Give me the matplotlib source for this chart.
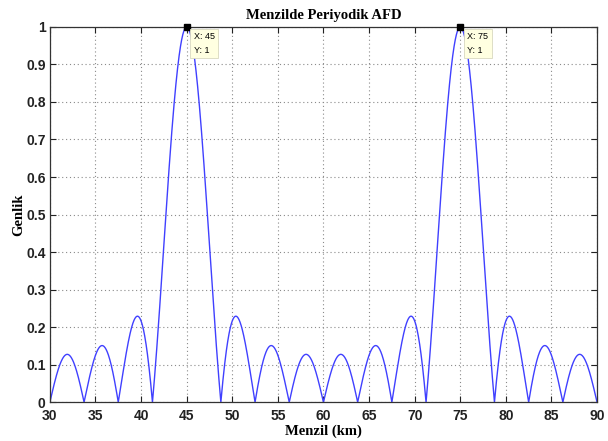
import numpy as np
import matplotlib.pyplot as plt

# range axis and array settings
menzil_min, menzil_max = 30, 90
periyot = 30          # km between main lobes
eleman_sayisi = 8     # nulls every 30/8 km
tepe_x = [45, 75]
tepe_y = [1, 1]

r = np.linspace(menzil_min, menzil_max, 2401)
u = np.pi * (r - tepe_x[0]) / periyot
pay = np.sin(eleman_sayisi * u)
payda = eleman_sayisi * np.sin(u)
with np.errstate(invalid='ignore', divide='ignore'):
    afd = np.abs(np.where(np.abs(payda) < 1e-12, 1.0, pay / payda))

fig = plt.figure(figsize=(6.08, 4.41), dpi=100)
ax = fig.add_axes([0.082, 0.088, 0.900, 0.851])

ax.plot(r, afd, color='#4040ff', lw=1.0)

ax.set_xlim(menzil_min, menzil_max)
ax.set_ylim(0, 1)
ax.set_xticks(np.arange(30, 91, 5))
ax.set_yticks(np.arange(0, 1.01, 0.1))
ax.set_yticklabels(['0', '0.1', '0.2', '0.3', '0.4', '0.5', '0.6', '0.7', '0.8', '0.9', '1'])
ax.grid(True, linestyle=(0, (1, 2.5)), color='#8a8a8a', lw=0.8)
ax.tick_params(direction='in', length=4, labelsize=10, width=0.8, top=True, right=True,
               labeltop=False, labelright=False, colors='#222222')
ax.tick_params(axis='x', pad=5)
ax.tick_params(axis='y', pad=3)
for lab in ax.get_xticklabels() + ax.get_yticklabels():
    lab.set_fontfamily('Liberation Sans')
    lab.set_fontweight('bold')
for s in ax.spines.values():
    s.set_color('#333333')
    s.set_linewidth(0.9)

ax.set_title('Menzilde Periyodik AFD', family='Liberation Serif', fontweight='bold',
             fontsize=10.5, pad=6)
ax.set_xlabel('Menzil (km)', family='Liberation Serif', fontweight='bold', fontsize=10.5,
              labelpad=1)
ax.set_ylabel('Genlik', family='Liberation Serif', fontweight='bold', fontsize=10.5,
              labelpad=1)

# data tips on the main lobes
for x, y in zip(tepe_x, tepe_y):
    ax.plot(x, y, 's', color='black', ms=5, clip_on=False, zorder=5)
    ax.annotate(f'X: {x}\nY: {y}', xy=(x, y), xytext=(5, -4), textcoords='offset points',
                ha='left', va='top', fontsize=6.5, family='Liberation Sans',
                linespacing=1.6,
                bbox=dict(boxstyle='square,pad=0.4', fc='#ffffe1', ec='#d8d8c0', lw=0.6),
                zorder=6)

fig.savefig('out.png', dpi=100)
